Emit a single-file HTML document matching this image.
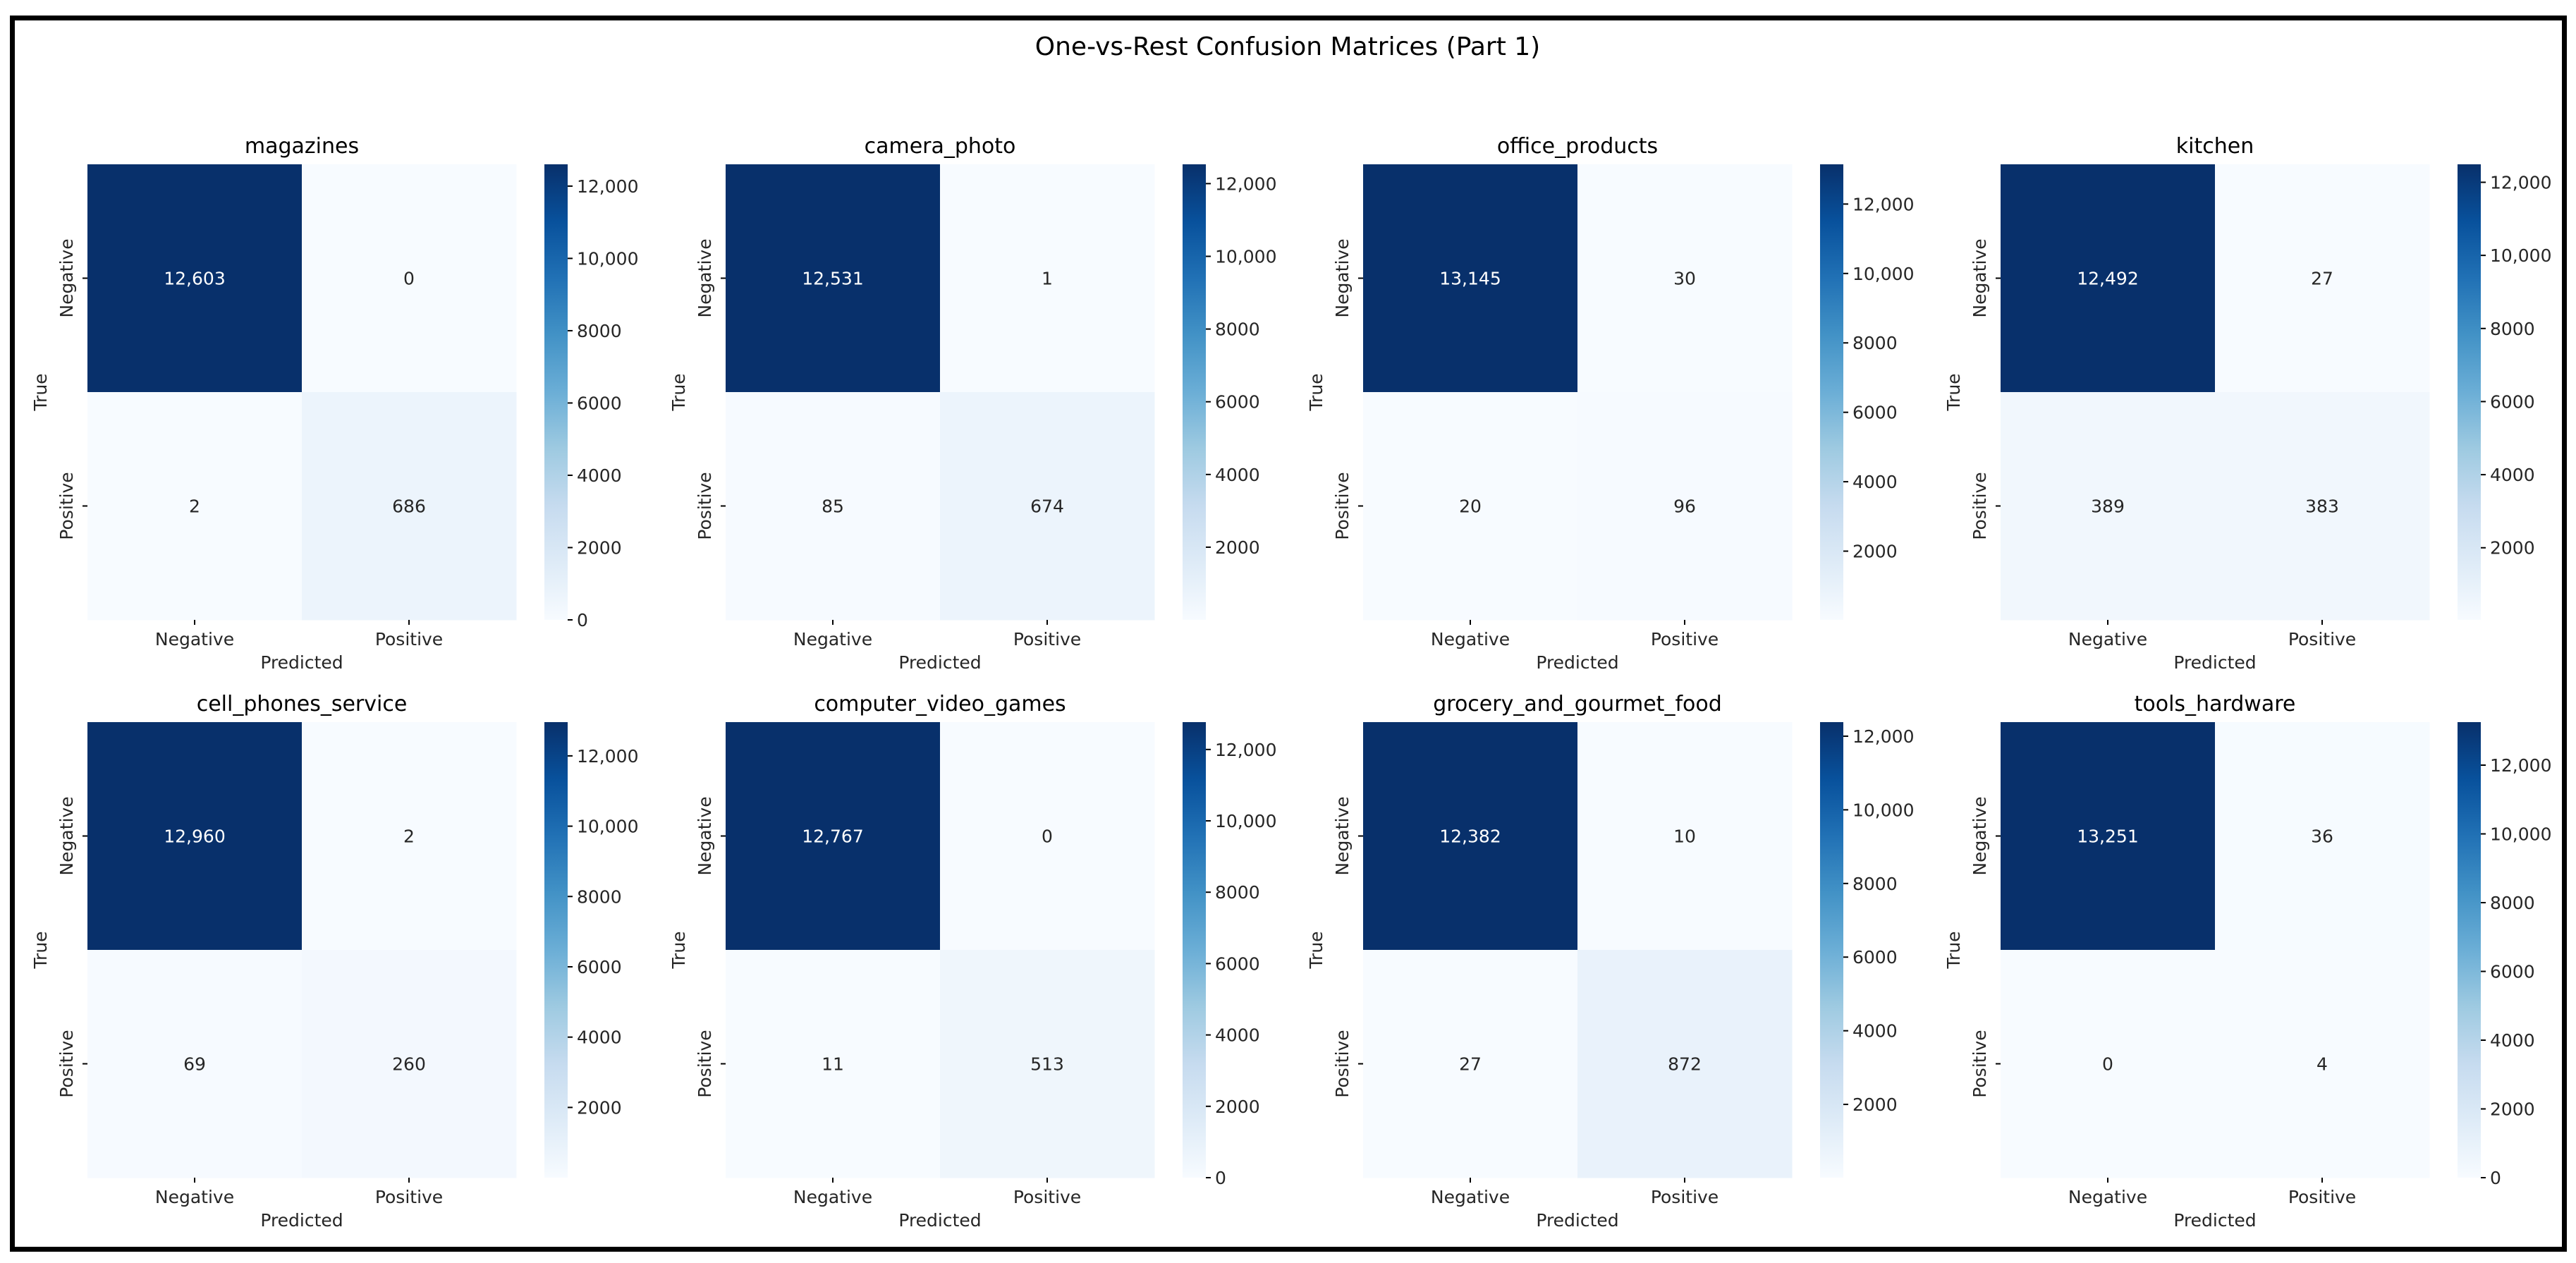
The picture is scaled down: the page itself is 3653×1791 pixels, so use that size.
<!DOCTYPE html>
<html><head><meta charset="utf-8">
<style>
html,body{margin:0;padding:0;background:#fff;}
svg{display:block;font-family:"DejaVu Sans","Liberation Sans",sans-serif;}
</style></head>
<body>
<svg id="fig" width="3653" height="1791" viewBox="0 0 3653 1791" xmlns="http://www.w3.org/2000/svg">
<rect x="0" y="0" width="3653" height="1791" fill="#fff"/>
<rect x="17.5" y="25.5" width="3619" height="1746" fill="none" stroke="#000" stroke-width="7"/>
<text x="1826" y="78" font-size="36" text-anchor="middle" fill="#000">One-vs-Rest Confusion Matrices (Part 1)</text>
<g id="panels"></g>
</svg>
<script>
const classNames = ["magazines","camera_photo","office_products","kitchen","cell_phones_service","computer_video_games","grocery_and_gourmet_food","tools_hardware"];
const tnValues = [12603,12531,13145,12492,12960,12767,12382,13251];
const fpValues = [0,1,30,27,2,0,10,36];
const fnValues = [2,85,20,389,69,11,27,0];
const tpValues = [686,674,96,383,260,513,872,4];
const axisLabels = ["Negative","Positive"];
const cbTicks = [0,2000,4000,6000,8000,10000,12000];

const NS="http://www.w3.org/2000/svg";
const blues=["#f7fbff","#deebf7","#c6dbef","#9ecae1","#6baed6","#4292c6","#2171b5","#08519c","#08306b"];
function hex(h){return [parseInt(h.slice(1,3),16),parseInt(h.slice(3,5),16),parseInt(h.slice(5,7),16)];}
function cmap(t){t=Math.max(0,Math.min(1,t));const p=t*8,i=Math.min(7,Math.floor(p)),f=p-i;const a=hex(blues[i]),b=hex(blues[i+1]);return "rgb("+a.map((v,k)=>Math.round(v+(b[k]-v)*f)).join(",")+")";}
function fmt(v){return v>=10000?v.toLocaleString("en-US"):String(v);}
function fmtAnn(v){return v.toLocaleString("en-US");}
function el(tag,attrs,parent,txt){const e=document.createElementNS(NS,tag);for(const k in attrs)e.setAttribute(k,attrs[k]);if(txt!==undefined)e.textContent=txt;parent.appendChild(e);return e;}

const root=document.getElementById("panels");
const colX=[124,1029,1933,2837], rowY=[233,1024], W=608, H=646;
classNames.forEach((name,idx)=>{
  const x0=colX[idx%4], y0=rowY[Math.floor(idx/4)];
  const g=el("g",{},root);
  
  
  const m=[[tnValues[idx],fpValues[idx]],[fnValues[idx],tpValues[idx]]];
  const flat=[].concat(...m), vmin=Math.min(...flat), vmax=Math.max(...flat);
  const norm=v=>(v-vmin)/(vmax-vmin);
  const cw=W/2, ch=H/2;
  for(let r=0;r<2;r++)for(let c=0;c<2;c++){
    const v=m[r][c];
    const rc=el("rect",{x:x0+c*cw,y:y0+r*ch,width:cw+0.5,height:ch+0.5,fill:cmap(norm(v))},g);
    
    
    const t=el("text",{x:x0+c*cw+cw/2,y:y0+r*ch+ch/2+9,"font-size":25,"text-anchor":"middle",fill:norm(v)>0.5?"#fff":"#262626"},g,fmtAnn(v));
    
    
  }
  const tt=el("text",{x:x0+W/2,y:y0-16,"font-size":30,"text-anchor":"middle",fill:"#000"},g,name);
  
  
  axisLabels.forEach((lab,i)=>{
    const cx=x0+cw*i+cw/2;
    el("line",{x1:cx,y1:y0+H,x2:cx,y2:y0+H+7,stroke:"#000","stroke-width":2},g);
    const xl=el("text",{x:cx,y:y0+H+36,"font-size":25,"text-anchor":"middle",fill:"#262626"},g,lab);
    
    
    const cy=y0+ch*i+ch/2;
    el("line",{x1:x0-7,y1:cy,x2:x0,y2:cy,stroke:"#000","stroke-width":2},g);
    const yl=el("text",{x:0,y:0,"font-size":25,"text-anchor":"middle",fill:"#262626",transform:"translate("+(x0-21)+","+cy+") rotate(-90)"},g,lab);
    
    
  });
  const xt=el("text",{x:x0+W/2,y:y0+H+69,"font-size":25,"text-anchor":"middle",fill:"#262626"},g,"Predicted");
  
  
  const yt=el("text",{x:0,y:0,"font-size":25,"text-anchor":"middle",fill:"#262626",transform:"translate("+(x0-58)+","+(y0+H/2)+") rotate(-90)"},g,"True");
  
  
  // colorbar
  const cbx=x0+648, cbw=33;
  const gid="grad"+idx;
  const defs=el("defs",{},g);
  const lg=el("linearGradient",{id:gid,x1:0,y1:1,x2:0,y2:0},defs);
  for(let k=0;k<=8;k++)el("stop",{offset:(k/8),"stop-color":blues[k]},lg);
  const cb=el("rect",{x:cbx,y:y0,width:cbw,height:H,fill:"url(#"+gid+")"},g);
  
  
  cbTicks.forEach(tv=>{
    if(tv<vmin||tv>vmax)return;
    const ty=y0+H-(tv-vmin)/(vmax-vmin)*H;
    el("line",{x1:cbx+cbw,y1:ty,x2:cbx+cbw+7,y2:ty,stroke:"#000","stroke-width":2},g);
    const tl=el("text",{x:cbx+cbw+13,y:ty+9,"font-size":25,fill:"#262626"},g,fmt(tv));
    
    
  });
});
</script>
</body></html>
